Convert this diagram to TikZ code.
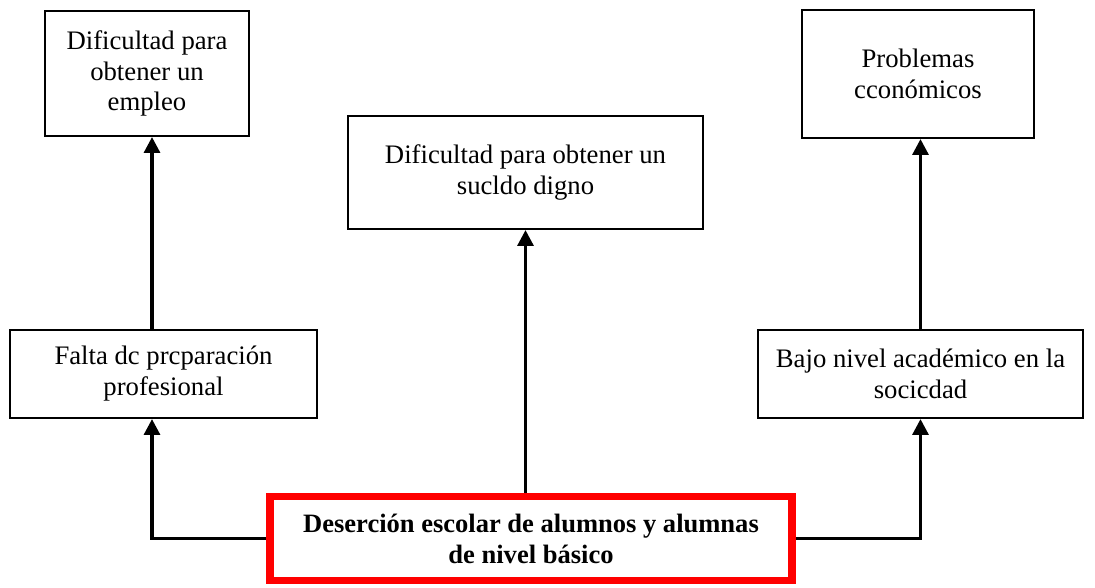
\documentclass[tikz,border=0pt]{standalone}
\usepackage{fontspec}
\setmainfont{Liberation Serif}
\usepackage{xcolor}
\usepackage{tikz}
\usetikzlibrary{arrows.meta,calc}
\definecolor{line}{HTML}{000000}
\definecolor{mark}{HTML}{FF0000}
\tikzset{
  box/.style={draw=line, line width=1.2pt, fill=white, align=center, inner sep=0pt,
    font=\fontsize{15.2}{17.6}\selectfont},
  mainBox/.style={draw=mark, line width=4.5pt, fill=white, align=center, inner sep=0pt,
    font=\fontsize{15.1}{17.6}\selectfont\bfseries},
  arr/.style={line width=1.9pt, draw=line, -{Triangle[length=9pt,width=9pt]}}
}

\begin{document}
\begin{tikzpicture}[x=0.02cm,y=-0.02cm]
\useasboundingbox (0,0) rectangle (1095,588);
\node[box, minimum width=4.08cm, minimum height=2.5cm] (topl) at (147,73.5)
  {Dificultad para\\obtener un\\empleo};
\node[box, minimum width=7.1cm, minimum height=2.26cm] (topc) at (525.5,172.5)
  {Dificultad para obtener un\\sucldo digno};
\node[box, minimum width=4.64cm, minimum height=2.56cm] (topr) at (918,74)
  {Problemas\\cconómicos};
\node[box, minimum width=6.14cm, minimum height=1.76cm] (midl) at (163.5,374)
  {Falta dc prcparación\\profesional};
\node[box, minimum width=6.5cm, minimum height=1.76cm] (midr) at (920.5,374)
  {Bajo nivel académico en la\\socicdad};
\node[mainBox, minimum width=10.45cm, minimum height=1.68cm] (red) at (531,538.5)
  {Deserción escolar de alumnos y alumnas\\de nivel básico};

\coordinate (lx) at (152,0);
\draw[arr] (red.west) -| (lx |- midl.south);
\draw[arr] (lx |- midl.north) -- (lx |- topl.south);
\draw[arr] (red.north -| topc.south) -- (topc.south);
\draw[arr] (red.east) -| (midr.south);
\draw[arr] (midr.north) -- (midr.north |- topr.south);
\end{tikzpicture}
\end{document}
